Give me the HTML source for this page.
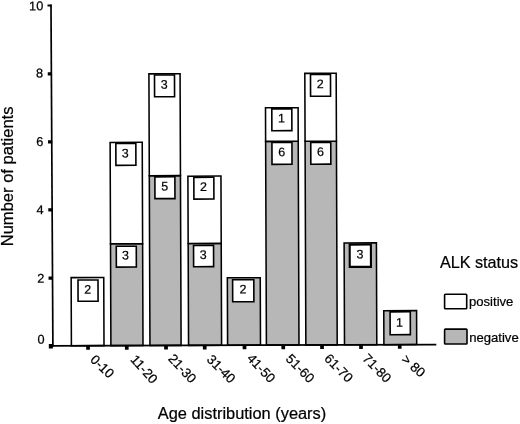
<!DOCTYPE html>
<html><head><meta charset="utf-8"><title>ALK status by age</title>
<style>html,body{margin:0;padding:0;background:#fff;width:520px;height:424px;overflow:hidden}text{stroke:#000;stroke-width:0.22px}</style></head>
<body>
<svg width="520" height="424" viewBox="0 0 520 424" style="display:block;position:absolute;left:0;top:0" font-family="'Liberation Sans', Arial, Helvetica, sans-serif" fill="#000">
<rect width="520" height="424" fill="#fff"/>
<g transform="matrix(1 -0.0033 0.0038 1 -1.3140 0.1746)">
<rect x="71.40" y="277.70" width="32.60" height="68.10" fill="#fff" stroke="#000" stroke-width="1.55"/>
<rect x="78.25" y="280.15" width="20.0" height="21.2" fill="#fff" stroke="#000" stroke-width="1.6"/>
<text x="87.95" y="293.80" font-size="12.5" text-anchor="middle">2</text>
<rect x="110.90" y="243.95" width="32.10" height="101.85" fill="#b7b7b7" stroke="#000" stroke-width="1.55"/>
<rect x="110.90" y="142.60" width="32.10" height="101.35" fill="#fff" stroke="#000" stroke-width="1.55"/>
<rect x="116.65" y="246.50" width="20.0" height="20.8" fill="#fff" stroke="#000" stroke-width="1.6"/>
<text x="125.85" y="259.85" font-size="12.5" text-anchor="middle">3</text>
<rect x="116.60" y="143.75" width="20.0" height="21.8" fill="#fff" stroke="#000" stroke-width="1.6"/>
<text x="125.90" y="157.80" font-size="12.5" text-anchor="middle">3</text>
<rect x="149.95" y="176.05" width="31.15" height="169.75" fill="#b7b7b7" stroke="#000" stroke-width="1.55"/>
<rect x="149.95" y="74.20" width="31.15" height="101.85" fill="#fff" stroke="#000" stroke-width="1.55"/>
<rect x="155.52" y="177.20" width="20.0" height="21.8" fill="#fff" stroke="#000" stroke-width="1.6"/>
<text x="165.22" y="190.85" font-size="12.5" text-anchor="middle">5</text>
<rect x="155.52" y="75.35" width="20.0" height="21.8" fill="#fff" stroke="#000" stroke-width="1.6"/>
<text x="165.22" y="89.00" font-size="12.5" text-anchor="middle">3</text>
<rect x="188.55" y="243.95" width="33.05" height="101.85" fill="#b7b7b7" stroke="#000" stroke-width="1.55"/>
<rect x="188.55" y="176.65" width="33.05" height="67.30" fill="#fff" stroke="#000" stroke-width="1.55"/>
<rect x="193.92" y="245.95" width="20.0" height="21.2" fill="#fff" stroke="#000" stroke-width="1.6"/>
<text x="203.62" y="259.50" font-size="12.5" text-anchor="middle">3</text>
<rect x="194.47" y="177.80" width="20.0" height="21.8" fill="#fff" stroke="#000" stroke-width="1.6"/>
<text x="204.17" y="191.45" font-size="12.5" text-anchor="middle">2</text>
<rect x="227.60" y="278.40" width="32.90" height="67.40" fill="#b7b7b7" stroke="#000" stroke-width="1.55"/>
<rect x="232.85" y="280.35" width="21.2" height="22.0" fill="#fff" stroke="#000" stroke-width="1.6"/>
<text x="243.15" y="294.10" font-size="12.5" text-anchor="middle">2</text>
<rect x="266.40" y="142.10" width="32.60" height="203.70" fill="#b7b7b7" stroke="#000" stroke-width="1.55"/>
<rect x="266.40" y="108.48" width="32.60" height="33.62" fill="#fff" stroke="#000" stroke-width="1.55"/>
<rect x="272.70" y="143.25" width="20.0" height="21.8" fill="#fff" stroke="#000" stroke-width="1.6"/>
<text x="282.40" y="156.90" font-size="12.5" text-anchor="middle">6</text>
<rect x="272.70" y="109.63" width="20.0" height="21.8" fill="#fff" stroke="#000" stroke-width="1.6"/>
<text x="282.40" y="123.28" font-size="12.5" text-anchor="middle">1</text>
<rect x="305.85" y="142.10" width="31.35" height="203.70" fill="#b7b7b7" stroke="#000" stroke-width="1.55"/>
<rect x="305.85" y="74.20" width="31.35" height="67.90" fill="#fff" stroke="#000" stroke-width="1.55"/>
<rect x="311.52" y="143.25" width="20.0" height="21.8" fill="#fff" stroke="#000" stroke-width="1.6"/>
<text x="321.22" y="156.90" font-size="12.5" text-anchor="middle">6</text>
<rect x="311.52" y="75.35" width="20.0" height="21.8" fill="#fff" stroke="#000" stroke-width="1.6"/>
<text x="321.22" y="89.00" font-size="12.5" text-anchor="middle">2</text>
<rect x="344.50" y="243.95" width="32.30" height="101.85" fill="#b7b7b7" stroke="#000" stroke-width="1.55"/>
<rect x="350.05" y="245.60" width="21.2" height="22.3" fill="#fff" stroke="#000" stroke-width="2.1"/>
<text x="360.35" y="259.50" font-size="12.5" text-anchor="middle">3</text>
<rect x="383.90" y="311.85" width="32.80" height="33.95" fill="#b7b7b7" stroke="#000" stroke-width="1.55"/>
<rect x="390.20" y="313.00" width="20.2" height="22.8" fill="#fff" stroke="#000" stroke-width="1.6"/>
<text x="399.50" y="327.85" font-size="12.5" text-anchor="middle">1</text>
<line x1="52.28" y1="4.60" x2="52.9" y2="346.6" stroke="#000" stroke-width="1.7"/>
<line x1="49.9" y1="345.8" x2="436.3" y2="345.8" stroke="#000" stroke-width="1.75"/>
<rect x="48.8" y="344.0" width="4.1" height="4.4"/>
<rect x="48.8" y="276.60" width="4.1" height="3.2"/>
<rect x="48.8" y="208.20" width="4.1" height="3.2"/>
<rect x="48.8" y="140.20" width="4.1" height="3.2"/>
<rect x="48.8" y="72.20" width="4.1" height="3.2"/>
<rect x="48.8" y="4.60" width="4.1" height="2"/>
<text x="44.70" y="343.80" font-size="12.8" text-anchor="end">0</text>
<text x="44.70" y="282.60" font-size="12.8" text-anchor="end">2</text>
<text x="44.20" y="214.20" font-size="12.8" text-anchor="end">4</text>
<text x="44.20" y="145.90" font-size="12.8" text-anchor="end">6</text>
<text x="44.20" y="77.50" font-size="12.8" text-anchor="end">8</text>
<text x="44.60" y="10.30" font-size="12.8" text-anchor="end">10</text>
<rect x="86.15" y="345.8" width="3.7" height="4.1"/>
<rect x="124.90" y="345.8" width="3.7" height="4.1"/>
<rect x="164.15" y="345.8" width="3.7" height="4.1"/>
<rect x="202.85" y="345.8" width="3.7" height="4.1"/>
<rect x="242.65" y="345.8" width="3.7" height="4.1"/>
<rect x="281.40" y="345.8" width="3.7" height="4.1"/>
<rect x="320.15" y="345.8" width="3.7" height="4.1"/>
<rect x="359.15" y="345.8" width="3.7" height="4.1"/>
<rect x="397.85" y="345.8" width="3.7" height="4.1"/>
</g>
<text transform="translate(89.60,360.51) rotate(44)" font-size="13.3">0-10</text>
<text transform="translate(129.70,360.06) rotate(48)" font-size="13.3">11-20</text>
<text transform="translate(167.46,359.13) rotate(47)" font-size="13.3">21-30</text>
<text transform="translate(205.89,360.22) rotate(44.5)" font-size="13.3">31-40</text>
<text transform="translate(246.22,358.91) rotate(46.7)" font-size="13.3">41-50</text>
<text transform="translate(284.99,359.56) rotate(45)" font-size="13.3">51-60</text>
<text transform="translate(323.48,359.13) rotate(45.5)" font-size="13.3">61-70</text>
<text transform="translate(361.78,359.25) rotate(45.5)" font-size="13.3">71-80</text>
<text transform="translate(400.65,360.54) rotate(41.5)" font-size="13.3">&gt; 80</text>
<text transform="translate(157.8,418.6) scale(1.024,1)" font-size="16">Age distribution (years)</text>
<text transform="translate(13.4,176.4) rotate(-90) scale(1.035,1)" font-size="16" text-anchor="middle">Number of patients</text>
<text x="439.9" y="267.8" font-size="16.2">ALK status</text>
<rect x="444.6" y="294.2" width="22.1" height="14.6" rx="0.8" fill="#fff" stroke="#000" stroke-width="1.6"/>
<rect x="444.6" y="329.1" width="22.4" height="14.9" rx="0.8" fill="#b7b7b7" stroke="#000" stroke-width="1.6"/>
<text x="469" y="306.2" font-size="13.1">positive</text>
<text x="469.2" y="341.6" font-size="13.1">negative</text>
</svg>
</body></html>
